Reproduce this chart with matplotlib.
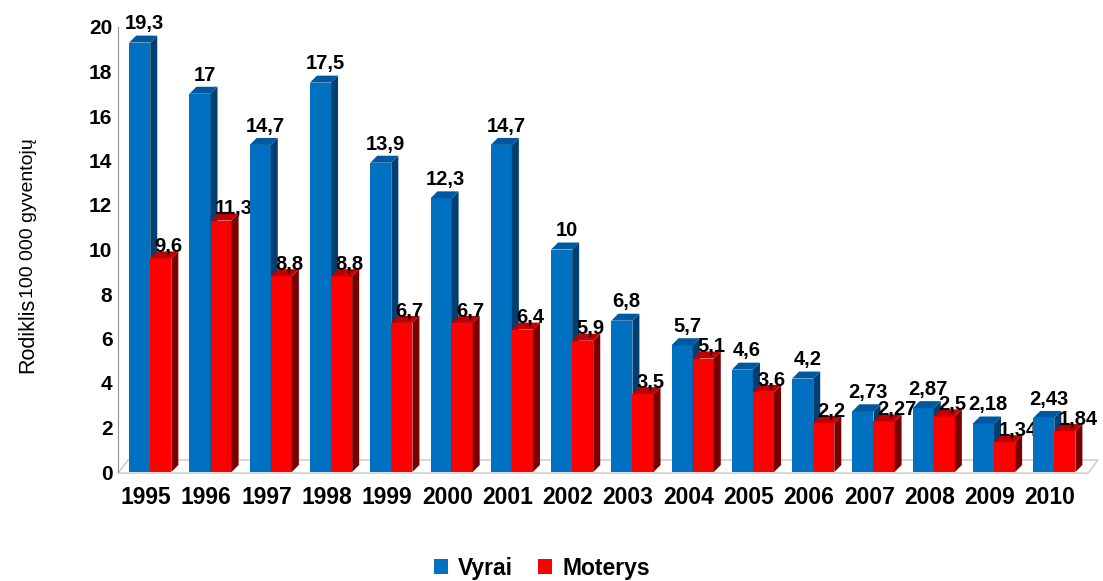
import matplotlib
matplotlib.use("Agg")
import matplotlib.pyplot as plt
from matplotlib.patches import Polygon, Patch
import numpy as np

years = ['1995', '1996', '1997', '1998', '1999', '2000', '2001', '2002',
         '2003', '2004', '2005', '2006', '2007', '2008', '2009', '2010']
vyrai = [19.3, 17, 14.7, 17.5, 13.9, 12.3, 14.7, 10, 6.8, 5.7, 4.6, 4.2, 2.73, 2.87, 2.18, 2.43]
moterys = [9.6, 11.3, 8.8, 8.8, 6.7, 6.7, 6.4, 5.9, 3.5, 5.1, 3.6, 2.2, 2.27, 2.5, 1.34, 1.84]
series_names = ['Vyrai', 'Moterys']

plt.rcParams['font.family'] = ['Liberation Sans', 'DejaVu Sans']

W, H = 1103, 581
fig = plt.figure(figsize=(W / 100, H / 100), dpi=100)
ax_l, ax_r = 118 / W, 1098 / W
ax_b, ax_t = (H - 472) / H, (H - 27) / H
ax = fig.add_axes([ax_l, ax_b, ax_r - ax_l, ax_t - ax_b])

xl, xr = -0.465, 15.795
ax.set_xlim(xl, xr)
ax.set_ylim(0, 20)

x = np.arange(len(years))
bw = 0.35
dx = 7 / 60.27
dy = 7 / 22.3

styles = [
    dict(front='#0070C0', side='#003F70', top='#0059A0'),
    dict(front='#FF0000', side='#7A0000', top='#C00000'),
]
offsets = [-0.28, 0.07]

# floor
fdx, fdy = 10 / 60.27, 12 / 22.3
floor = Polygon([(xl, -0.05), (xr - fdx, -0.05), (xr, fdy), (xl + fdx, fdy)],
                closed=True, facecolor='white', edgecolor='#C8C8C8', lw=1.0,
                zorder=1, clip_on=False)
ax.add_patch(floor)

for i in range(len(years)):
    for s, vals in enumerate([vyrai, moterys]):
        z = 10 + i * 4 + s * 2
        st = styles[s]
        v = vals[i]
        left = x[i] + offsets[s]
        ax.bar([left], [v], width=bw, align='edge', color=st['front'],
               edgecolor='none', zorder=z, clip_on=False)
        side = Polygon([(left + bw, 0), (left + bw + dx, dy), (left + bw + dx, v + dy),
                        (left + bw, v)], closed=True, facecolor=st['side'],
                       edgecolor='none', zorder=z, clip_on=False)
        top = Polygon([(left, v), (left + bw, v), (left + bw + dx, v + dy),
                       (left + dx, v + dy)], closed=True, facecolor=st['top'],
                      edgecolor='none', zorder=z, clip_on=False)
        ax.add_patch(side)
        ax.add_patch(top)
        lab = f"{v:g}".replace('.', ',')
        if s == 0:
            ax.text(left + bw / 2 + 0.08, v + dy + 0.1, lab, ha='center', va='bottom',
                    fontsize=14.5, fontweight='bold', color='black', zorder=z + 1,
                    clip_on=False)
        else:
            ax.text(left + 0.07, v + 0.28, lab, ha='left', va='baseline',
                    fontsize=14.5, fontweight='bold', color='black', zorder=z + 1,
                    clip_on=False)

for sp in ['top', 'right', 'bottom']:
    ax.spines[sp].set_visible(False)
ax.spines['left'].set_color('#909090')
ax.spines['left'].set_linewidth(0.8)

ax.set_xticks(x)
ax.set_xticklabels(years, fontsize=16.5, fontweight='bold')
ax.set_yticks(np.arange(0, 21, 2))
ax.set_yticklabels([str(t) for t in range(0, 21, 2)], fontsize=15, fontweight='bold')
ax.tick_params(axis='x', length=0, pad=10)
ax.tick_params(axis='y', length=0, pad=4)

# y-axis label in two sizes
fig.text(33 / W, (H - 373) / H, 'Rodiklis', rotation=90, rotation_mode='anchor',
         ha='left', va='baseline', fontsize=15.5, color='black')
fig.text(33 / W, (H - 298) / H, '100 000 gyventojų', rotation=90,
         rotation_mode='anchor', ha='left', va='baseline', fontsize=14, color='black')

handles = [Patch(facecolor=styles[0]['front'], edgecolor='none'),
           Patch(facecolor=styles[1]['front'], edgecolor='none')]
fig.legend(handles, series_names, loc='center', bbox_to_anchor=(542 / W, 13 / H),
           ncol=2, frameon=False, handlelength=0.6, handleheight=0.6,
           handletextpad=0.45, columnspacing=1.1,
           prop=dict(weight='bold', size=16.5))

fig.savefig('out.png', dpi=100)
